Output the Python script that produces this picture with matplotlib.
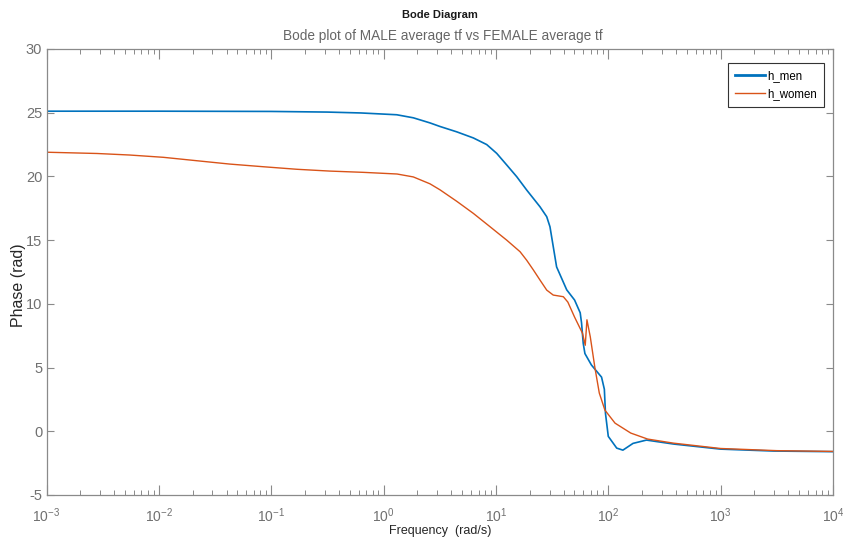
import matplotlib
matplotlib.use("Agg")
import matplotlib.pyplot as plt
import numpy as np
from matplotlib.ticker import LogLocator, NullFormatter, FixedLocator

plt.rcParams['font.family'] = ['Liberation Sans', 'DejaVu Sans']
plt.rcParams['mathtext.fontset'] = 'custom'
plt.rcParams['mathtext.rm'] = 'Liberation Sans'
plt.rcParams['mathtext.it'] = 'Liberation Sans'
plt.rcParams['axes.unicode_minus'] = False

# Phase response of the averaged transfer functions (log10 of frequency in rad/s, phase in rad)
men_logw = [-3.0, -2.0, -1.0, -0.5, -0.2, 0.117, 0.265, 0.413, 0.502, 0.651, 0.799,
            0.918, 1.007, 1.096, 1.185, 1.274, 1.392, 1.452, 1.481, 1.51, 1.54, 1.63,
            1.70, 1.75, 1.762, 1.777, 1.792, 1.85, 1.94, 1.965, 1.975, 2.0, 2.075,
            2.13, 2.22, 2.34, 2.58, 3.0, 3.47, 4.0]
men_phase = [25.12, 25.12, 25.1, 25.05, 24.98, 24.84, 24.6, 24.2, 23.92, 23.5, 23.02,
             22.5, 21.81, 20.9, 19.98, 18.93, 17.62, 16.84, 16.05, 14.5, 12.9, 11.1,
             10.3, 9.3, 8.5, 6.9, 6.1, 5.2, 4.25, 3.3, 1.4, -0.4, -1.32,
             -1.48, -0.95, -0.69, -1.0, -1.4, -1.55, -1.6]

women_logw = [-3.0, -2.55, -2.26, -1.96, -1.66, -1.37, -1.07, -0.77, -0.48, -0.18, 0.12,
              0.265, 0.413, 0.502, 0.651, 0.799, 0.948, 1.096, 1.215, 1.274, 1.334, 1.392,
              1.452, 1.51, 1.6, 1.64, 1.70, 1.77, 1.795, 1.81, 1.84, 1.88, 1.92, 1.97,
              2.06, 2.2, 2.35, 2.58, 3.0, 3.5, 4.0]
women_phase = [21.9, 21.8, 21.68, 21.5, 21.23, 20.97, 20.76, 20.56, 20.42, 20.32, 20.19,
               19.96, 19.42, 18.95, 18.05, 17.1, 16.05, 15.0, 14.09, 13.42, 12.65, 11.87,
               11.08, 10.69, 10.56, 10.14, 8.96, 7.7, 6.75, 8.75, 7.4, 5.04, 3.0, 1.66,
               0.64, -0.14, -0.61, -0.93, -1.35, -1.52, -1.58]

series_labels = ['h_men', 'h_women']
x_limits = (1e-3, 1e4)
y_ticks = [-5, 0, 5, 10, 15, 20, 25, 30]

blue = '#0072BD'
orange = '#D95319'
axis_gray = '#8a8a8a'
label_gray = '#707070'

W, H = 843, 540
fig = plt.figure(figsize=(W / 100, H / 100), dpi=100)
ax = fig.add_axes([46.5 / W, 45 / H, (833 - 46.5) / W, (495 - 49) / H])

ax.plot(10.0 ** np.array(men_logw), men_phase, color=blue, lw=1.2, label=series_labels[0])
ax.plot(10.0 ** np.array(women_logw), women_phase, color=orange, lw=1.0, label=series_labels[1])

ax.set_xscale('log')
ax.set_xlim(*x_limits)
ax.set_ylim(y_ticks[0], y_ticks[-1])
ax.yaxis.set_major_locator(FixedLocator(y_ticks))
ax.xaxis.set_major_locator(LogLocator(base=10, numticks=20))
ax.xaxis.set_minor_locator(LogLocator(base=10, subs=np.arange(2, 10), numticks=100))
ax.xaxis.set_minor_formatter(NullFormatter())

for s in ax.spines.values():
    s.set_color(axis_gray)
    s.set_linewidth(0.9)

ax.tick_params(axis='x', which='major', direction='in', top=True, bottom=True,
               length=7, width=0.8, color=axis_gray, labelcolor=label_gray,
               labelsize=10, pad=8)
ax.tick_params(axis='x', which='minor', direction='in', top=True, bottom=True,
               length=3.5, width=0.7, color=axis_gray)
ax.tick_params(axis='y', which='major', direction='in', left=True, right=True,
               length=5, width=0.8, color=axis_gray, labelcolor=label_gray,
               labelsize=10.5, pad=3)

ax.set_xlabel('Frequency  (rad/s)', fontsize=9, color='#262626', labelpad=0)
ax.set_ylabel('Phase (rad)', fontsize=11.5, color='#262626')
ax.yaxis.set_label_coords(-0.026, 0.47)

fig.text(440 / W, 1 - 15 / H, 'Bode Diagram', ha='center', va='center',
         fontsize=8, fontweight='bold', color='#1a1a1a')
fig.text(443 / W, 1 - 36 / H, 'Bode plot of MALE average tf vs FEMALE average tf',
         ha='center', va='center', fontsize=9.8, color='#666666')

leg = ax.legend(loc='upper right', bbox_to_anchor=(824 / W, 1 - 63 / H),
                bbox_transform=fig.transFigure, borderaxespad=0,
                fontsize=8.3, frameon=True, fancybox=False,
                handlelength=2.6, handletextpad=0.2,
                labelspacing=0.5, borderpad=0.6)
leg.get_frame().set_edgecolor('#333333')
leg.get_frame().set_linewidth(0.8)
leg.get_frame().set_alpha(1)
leg.get_lines()[0].set_linewidth(2.0)

fig.savefig('out.png', dpi=100)
